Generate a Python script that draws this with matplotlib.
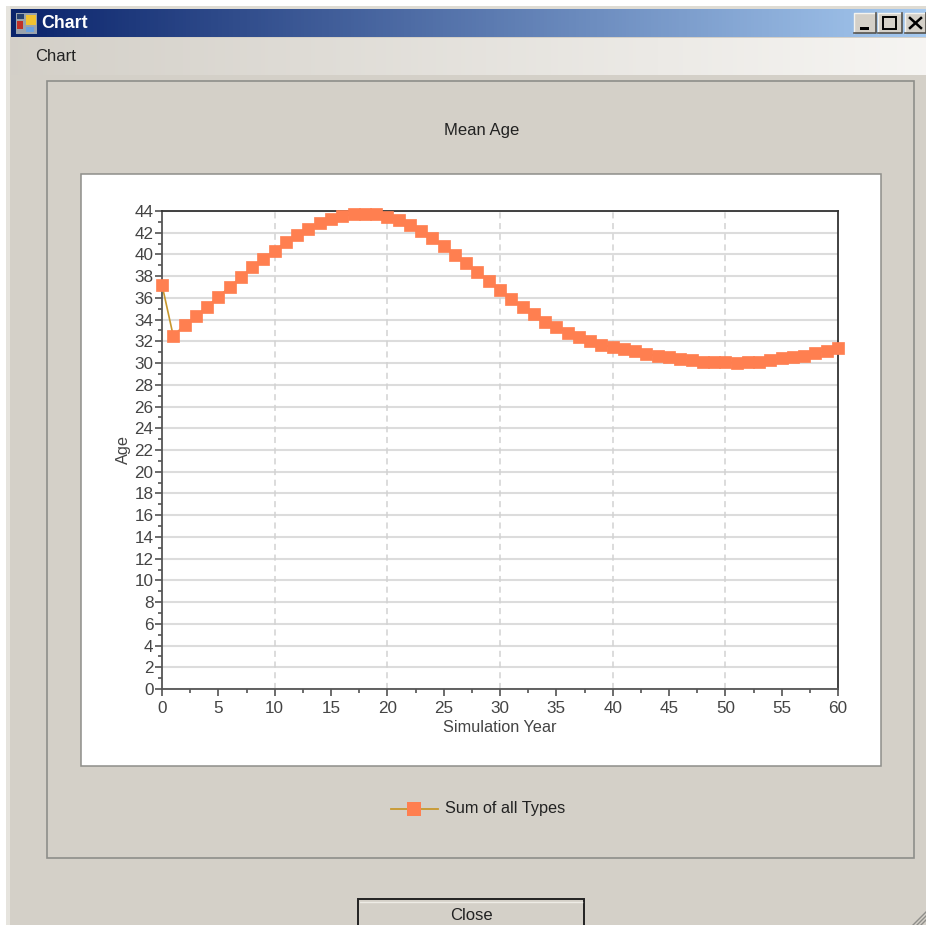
import numpy as np
import matplotlib
matplotlib.use("Agg")
import matplotlib.pyplot as plt
from matplotlib.patches import Rectangle
from matplotlib.ticker import MultipleLocator

plt.rcParams['font.family'] = ['Liberation Sans', 'DejaVu Sans']

# Data
years = list(range(0, 61))
mean_age = [37.2, 32.5, 33.5, 34.3, 35.2, 36.1, 37.0, 37.9, 38.8, 39.6,
            40.35, 41.15, 41.76, 42.3, 42.85, 43.3, 43.57, 43.7, 43.7, 43.7,
            43.48, 43.17, 42.7, 42.2, 41.5, 40.8, 39.95, 39.25, 38.4, 37.55,
            36.7, 35.87, 35.2, 34.5, 33.75, 33.35, 32.8, 32.37, 32.05, 31.66,
            31.5, 31.27, 31.1, 30.83, 30.68, 30.53, 30.4, 30.28, 30.13, 30.13,
            30.13, 29.98, 30.13, 30.13, 30.28, 30.43, 30.55, 30.68, 30.97, 31.13, 31.37]
x_ticks = list(range(0, 61, 5))
y_ticks = list(range(0, 45, 2))

W, H = 926, 925
FACE = '#d4d0c8'
EDGE = '#8e8e8a'
TEXT = '#222222'
LINE = '#c8982e'
MARK = '#ff7f50'

fig = plt.figure(figsize=(W / 100, H / 100), dpi=100, facecolor='white')

# Window drawn in pixel coordinates on a full figure axes
bg = fig.add_axes([0, 0, 1, 1])
bg.set_xlim(0, W)
bg.set_ylim(H, 0)
bg.axis('off')


def box(x0, y0, x1, y1, fc, ec='none', lw=0, z=1):
    bg.add_patch(Rectangle((x0, y0), x1 - x0, y1 - y0, facecolor=fc,
                           edgecolor=ec, linewidth=lw, zorder=z))


box(6, 6, W, H, FACE)
box(6, 6, W, 9, '#dedbd3')
box(6, 6, 10, H, '#e6e4de')

# title bar and menu gradients
title_grad = np.array([[0.04, 0.14, 0.42], [0.65, 0.79, 0.94]])
t = np.linspace(0, 1, 256)[:, None]
bar = (title_grad[0] * (1 - t) + title_grad[1] * t)[None, :, :]
bg.imshow(bar, extent=(11, W, 37, 9), aspect='auto', zorder=2)
menu_grad = np.array([[0.83, 0.815, 0.785], [0.965, 0.96, 0.95]])
strip = (menu_grad[0] * (1 - t) + menu_grad[1] * t)[None, :, :]
bg.imshow(strip, extent=(11, W, 75, 38), aspect='auto', zorder=2)
bg.set_xlim(0, W)
bg.set_ylim(H, 0)

# icon
box(16, 13, 37, 34, '#9aa3ad', z=3)
box(26, 15, 36, 25, '#f2c230', z=4)
box(17, 21, 23, 29, '#c03028', z=4)
box(26, 27, 34, 32, '#6aa0e0', z=4)
box(17, 14, 24, 19, '#27406f', z=4)
bg.text(41, 23.5, 'Chart', color='white', fontsize=12.8, fontweight='bold',
        ha='left', va='center', zorder=4)
bg.text(35, 56.5, 'Chart', color=TEXT, fontsize=12, ha='left', va='center', zorder=4)

# window buttons, raised look
for x0, x1 in [(854, 876), (878, 902), (905, 926)]:
    box(x0, 13, x1, 33, FACE, z=3)
    bg.plot([x0, x0, x1], [33, 13, 13], color='#f4f3ee', lw=1, zorder=4)
    bg.plot([x0, x1, x1], [33, 33, 13], color='#55534e', lw=1.2, zorder=4)
box(860, 27, 869, 30, 'black', z=4)
box(883, 17, 896, 29, 'none', ec='black', lw=1.4, z=4)
bg.plot([910, 921], [18, 28], color='black', lw=1.8, zorder=4)
bg.plot([910, 921], [28, 18], color='black', lw=1.8, zorder=4)

# group box and white chart panel
box(46.5, 80.5, 914, 858, 'none', ec=EDGE, lw=1.2, z=3)
box(80.5, 173.5, 880.5, 766, 'white', ec=EDGE, lw=1.1, z=3)
bg.text(482, 130, 'Mean Age', color=TEXT, fontsize=12, ha='center', va='center', zorder=4)

# legend
bg.plot([391, 438], [809, 809], color=LINE, lw=1.3, zorder=4)
box(407, 802, 421, 816, MARK, z=5)
bg.text(445, 808.5, 'Sum of all Types', color=TEXT, fontsize=11.7, ha='left',
        va='center', zorder=4)

# close button
box(358, 899, 584, 930, FACE, ec='#222222', lw=1.4, z=3)
bg.plot([360, 582], [901.5, 901.5], color='#eeece6', lw=1, zorder=4)
bg.text(471, 915, 'Close', color=TEXT, fontsize=12, ha='center', va='center', zorder=4)

# resize grip
for d in (5, 9, 13):
    bg.plot([W - d, W], [H, H - d], color='#8e8e8a', lw=1, zorder=4)

# The chart itself
left, right, top, bottom = 162, 838, 211, 689
ax = fig.add_axes([left / W, 1 - bottom / H, (right - left) / W, (bottom - top) / H],
                  facecolor='white', zorder=5)
ax.plot(years, mean_age, color=LINE, lw=1.2, marker='s', markersize=8.2,
        markerfacecolor=MARK, markeredgecolor=MARK, markeredgewidth=0.5, clip_on=False, zorder=4)
ax.set_xlim(0, 60)
ax.set_ylim(0, 44)
ax.set_xticks(x_ticks)
ax.set_yticks(y_ticks)
ax.xaxis.set_minor_locator(MultipleLocator(2.5))
ax.yaxis.set_minor_locator(MultipleLocator(1))
ax.grid(axis='y', which='major', color='#dcdcdc', lw=1.5)
ax.set_axisbelow(True)
for v in range(10, 60, 10):
    ax.axvline(v, color='#d2d2d2', lw=1.1, ls=(0, (4, 3)), zorder=1)
ax.tick_params(which='major', length=5, width=1.1, color='#444444', labelcolor='#444444',
               labelsize=12.3, pad=1.2)
ax.tick_params(axis='x', which='major', pad=3.4)
ax.tick_params(which='minor', length=3, width=1.1, color='#444444')
ax.set_xlabel('Simulation Year', fontsize=11.7, color='#444444', va='center')
ax.set_ylabel('Age', fontsize=11.7, color='#444444', va='center')
ax.xaxis.set_label_coords(0.5, (bottom - 728) / (bottom - top))
ax.yaxis.set_label_coords((123 - left) / (right - left), 0.5)
for name, spine in ax.spines.items():
    spine.set_linewidth(1.3)
    spine.set_color('#333333' if name in ('top', 'right') else '#555555')

fig.savefig('out.png', dpi=100, facecolor='white')
